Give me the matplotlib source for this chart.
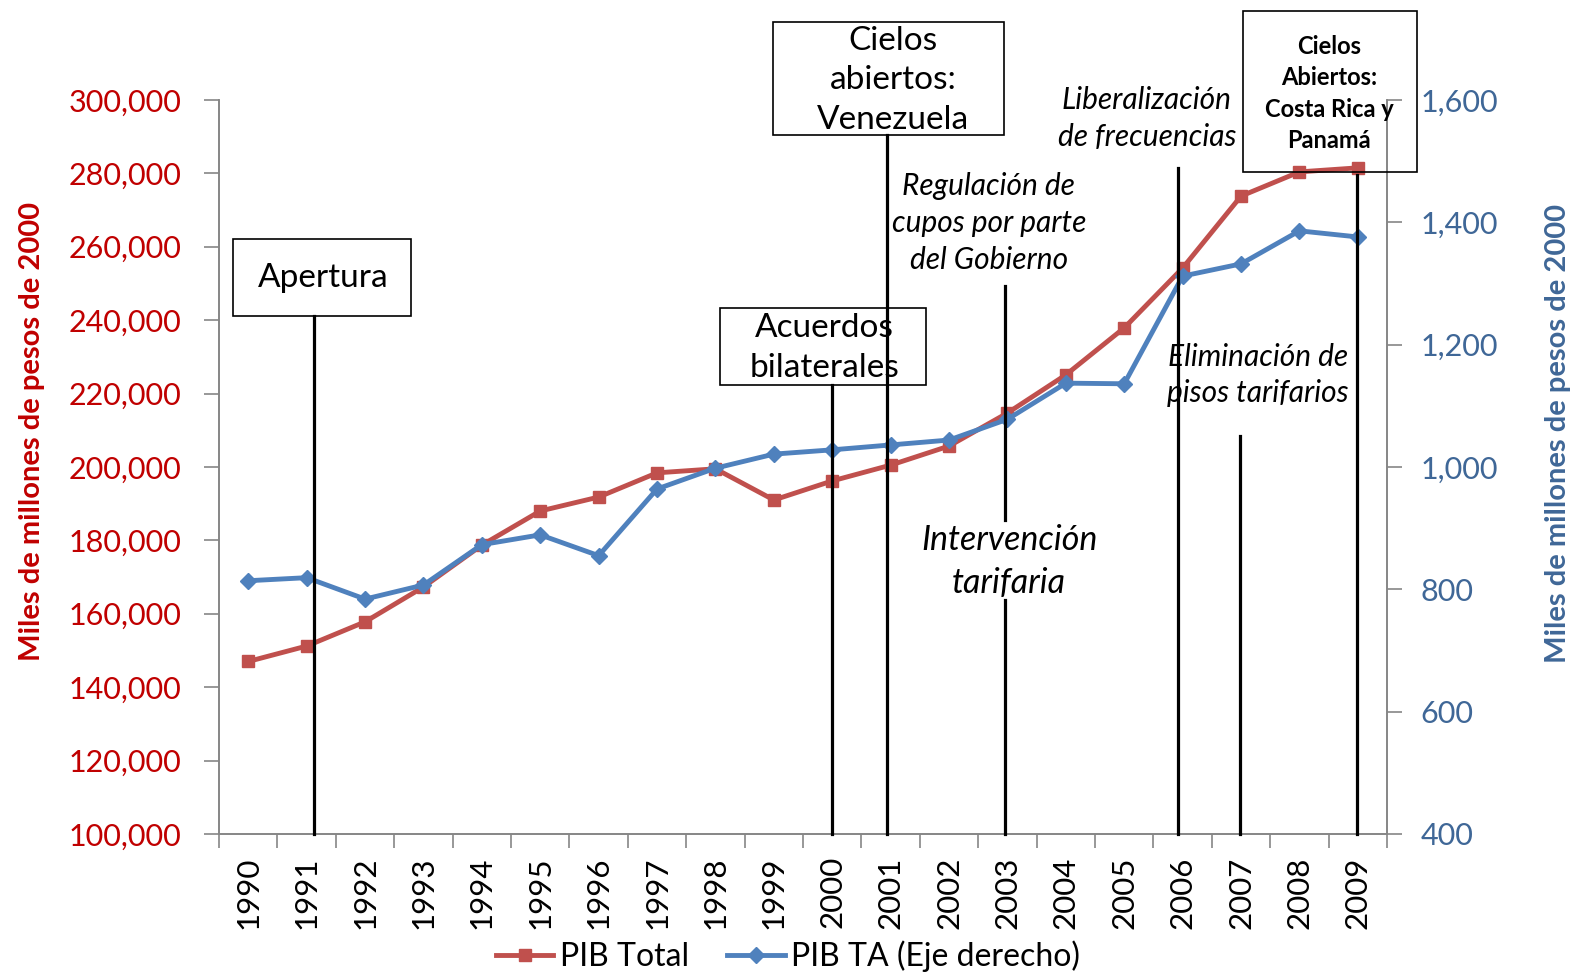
"""PIB total vs PIB transporte aéreo (Colombia, 1990-2009) with policy milestones."""
import matplotlib

matplotlib.use("Agg")
import matplotlib.pyplot as plt
from matplotlib.patches import Rectangle
from matplotlib.ticker import FuncFormatter, MultipleLocator
import numpy as np

plt.rcParams["font.family"] = ["Lato", "DejaVu Sans"]

years = list(range(1990, 2010))
pib_total = [147000, 151200, 157800, 167300, 178700, 188000, 191800, 198400, 199500, 191000,
             196200, 200500, 205700, 214700, 225100, 237900, 254200, 273800, 280400, 281500]
pib_ta = [814, 819, 784, 807, 873, 889, 855, 964, 998, 1021,
          1028, 1036, 1044, 1078, 1137, 1136, 1312, 1332, 1386, 1376]

RED = "#C0504D"
BLUE = "#4F81BD"
RED_TXT = "#C00000"
BLUE_TXT = "#3F6797"
GRID = "#868686"

fig = plt.figure(figsize=(15.76, 9.77), dpi=100)
ax = fig.add_axes([0.139, 0.1464, 0.7411, 0.7513])
ax2 = ax.twinx()

x = np.arange(len(years))
ax.plot(x, pib_total, "-s", color=RED, lw=3.5, ms=9, label="PIB Total", zorder=3)
ax2.plot(x, pib_ta, "-D", color=BLUE, lw=3.5, ms=8.5, label="PIB TA (Eje derecho)", zorder=3)

ax.set_xlim(-0.5, len(years) - 0.5)
ax.set_ylim(100000, 300000)
ax2.set_ylim(400, 1600)
ax.yaxis.set_major_locator(MultipleLocator(20000))
ax2.yaxis.set_major_locator(MultipleLocator(200))
ax.yaxis.set_major_formatter(FuncFormatter(lambda v, _: f"{v:,.0f}"))
ax2.yaxis.set_major_formatter(FuncFormatter(lambda v, _: f"{v:,.0f}"))

ax.set_xticks(x)
ax.set_xticklabels([str(y) for y in years], rotation=90, fontsize=22.5)
ax.set_xticks(np.arange(-0.5, len(years)), minor=True)
ax.tick_params(axis="x", which="major", length=0, pad=16)
ax.tick_params(axis="x", which="minor", length=10, color=GRID, width=1.2)
ax.tick_params(axis="y", length=11, color=GRID, width=1.2, labelsize=22,
               labelcolor=RED_TXT, pad=16)
ax2.tick_params(axis="y", length=11, color=GRID, width=1.2, labelsize=22,
                labelcolor=BLUE_TXT, pad=13)

for a in (ax, ax2):
    a.spines["top"].set_visible(False)
    for s in ("left", "right", "bottom"):
        a.spines[s].set_color(GRID)
        a.spines[s].set_linewidth(1.2)

ax.set_ylabel("Miles de millones de pesos de 2000", color=RED_TXT, fontsize=21,
              fontweight="bold", labelpad=17)
ax2.set_ylabel("Miles de millones de pesos de 2000", color=BLUE_TXT, fontsize=21,
               fontweight="bold", labelpad=34)
ax.yaxis.label.set_y(0.548)
ax2.yaxis.label.set_y(0.545)

# milestones: x in data, y in axes fraction
tr = ax2.get_xaxis_transform()
vlines = [
    (1.13, 0.0, 0.706),
    (10.0, 0.0, 0.612),
    (10.93, 0.0, 0.952),
    (12.96, 0.0, 0.319),
    (12.96, 0.428, 0.747),
    (15.92, 0.0, 0.907),
    (16.98, 0.0, 0.542),
    (18.99, 0.0, 0.898),
]
for xv, y0, y1 in vlines:
    ax2.plot([xv, xv], [y0, y1], color="black", lw=2.3, transform=tr,
             clip_on=False, zorder=5)

boxes = [
    (-0.26, 0.706, 3.05, 0.105),
    (8.08, 0.612, 3.53, 0.105),
    (8.99, 0.952, 3.95, 0.154),
    (17.03, 0.902, 2.98, 0.219),
]
for bx, by, bw, bh in boxes:
    ax2.add_patch(Rectangle((bx, by), bw, bh, transform=tr, fill=False,
                            ec="black", lw=1.2, clip_on=False, zorder=4))

labels = [
    (1.28, 0.757, "Apertura", dict(fontsize=24)),
    (9.86, 0.662, "Acuerdos\nbilaterales", dict(fontsize=24, linespacing=1.4)),
    (11.04, 1.027, "Cielos\nabiertos:\nVenezuela", dict(fontsize=24, linespacing=1.4)),
    (18.51, 1.009, "Cielos\nAbiertos:\nCosta Rica y\nPanamá",
     dict(fontsize=17, fontweight="bold", linespacing=1.45)),
    (15.39, 0.975, "Liberalización\nde frecuencias", dict(fontsize=21.5, style="italic", linespacing=1.4)),
    (12.68, 0.832, "Regulación de\ncupos por parte\ndel Gobierno",
     dict(fontsize=21.5, style="italic", linespacing=1.4)),
    (13.03, 0.371, "Intervención\ntarifaria", dict(fontsize=24.5, style="italic", linespacing=1.4)),
    (17.29, 0.625, "Eliminación de\npisos tarifarios", dict(fontsize=21.5, style="italic", linespacing=1.35)),
]
for tx, ty, txt, kw in labels:
    ax2.text(tx, ty, txt, transform=tr, ha="center", va="center", color="black",
             clip_on=False, zorder=6, **kw)

h1, l1 = ax.get_legend_handles_labels()
h2, l2 = ax2.get_legend_handles_labels()
fig.legend(h1 + h2, l1 + l2, loc="lower center", bbox_to_anchor=(0.5, -0.024), ncol=2,
           frameon=False, fontsize=23, handlelength=1.8, columnspacing=1.2, handletextpad=0.2)

fig.savefig("out.png", dpi=100)
